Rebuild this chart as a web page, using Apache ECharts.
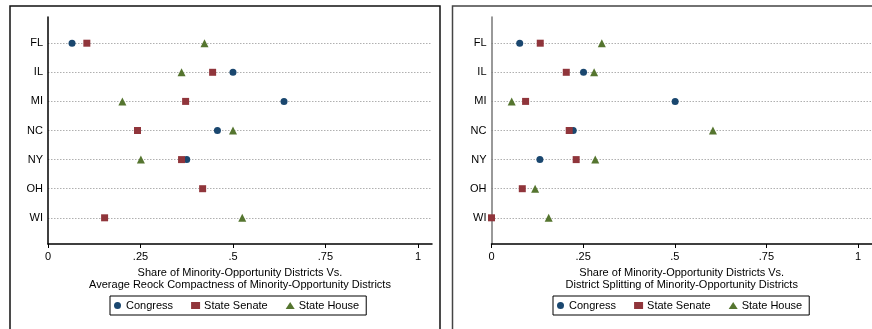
<!DOCTYPE html>
<html>
<head>
<meta charset="utf-8">
<script src="https://cdn.jsdelivr.net/npm/echarts@6/dist/echarts.min.js"></script>
<style>
html,body{margin:0;padding:0;background:#fff;}
#c{width:872px;height:329px;}
</style>
</head>
<body>
<div id="c"></div>
<script>
// ---- data ----
var states = ["FL", "IL", "MI", "NC", "NY", "OH", "WI"];
var seriesNames = ["Congress", "State Senate", "State House"];
var xTickValues = [0, 0.25, 0.5, 0.75, 1];
var xTickLabels = ["0", ".25", ".5", ".75", "1"];
var leftTitle = "Share of Minority-Opportunity Districts Vs.\nAverage Reock Compactness of Minority-Opportunity Districts";
var rightTitle = "Share of Minority-Opportunity Districts Vs.\nDistrict Splitting of Minority-Opportunity Districts";

// Left panel: Reock compactness (null = no point)
var reockCongress = [0.065, 0.500, 0.638, 0.458, 0.375, null, null];
var reockSenate   = [0.105, 0.445, 0.372, 0.242, 0.361, 0.418, 0.153];
var reockHouse    = [0.423, 0.361, 0.201, 0.500, 0.251, null, 0.525];

// Right panel: district splitting
var splitCongress = [0.077, 0.251, 0.501, 0.223, 0.132, null, null];
var splitSenate   = [0.133, 0.204, 0.093, 0.212, 0.231, 0.084, 0.000];
var splitHouse    = [0.301, 0.280, 0.055, 0.604, 0.283, 0.119, 0.156];

// ---- styles ----
var colors = ["#1a476f", "#90353b", "#55752f"];
var symbols = ["circle", "rect", "triangle"];
var symbolSizes = [7, 7, 8];
var FONT = "'Liberation Sans', Arial, Helvetica, sans-serif";

function pts(vals) {
  var out = [];
  for (var i = 0; i < vals.length; i++) {
    if (vals[i] !== null) out.push([vals[i], i]);
  }
  return out;
}

function mkX(idx, title) {
  return {
    type: 'value', gridIndex: idx, min: 0, max: 1.038,
    axisLine: {show: true, onZero: false, lineStyle: {color: '#000', width: 1.5}},
    axisTick: {show: true, length: 4, lineStyle: {color: '#000'}, customValues: xTickValues},
    axisLabel: {
      color: '#000', fontSize: 11, fontFamily: FONT, margin: 7,
      customValues: xTickValues,
      formatter: function (v) {
        for (var i = 0; i < xTickValues.length; i++) if (Math.abs(xTickValues[i] - v) < 1e-9) return xTickLabels[i];
        return '';
      }
    },
    splitLine: {show: false},
    name: title, nameLocation: 'middle', nameGap: 20,
    nameTextStyle: {color: '#000', fontSize: 11, fontFamily: FONT, lineHeight: 12, align: 'center'}
  };
}

function mkY(idx, lineColor) {
  var cats = [0, 1, 2, 3, 4, 5, 6];
  return {
    type: 'value', gridIndex: idx, min: -0.9, max: 6.9, inverse: true,
    axisLine: {show: true, onZero: false, lineStyle: {color: lineColor, width: 1.5}},
    axisTick: {show: false, customValues: cats},
    axisLabel: {
      color: '#000', fontSize: 11, fontFamily: FONT, margin: 5,
      customValues: cats,
      formatter: function (v) { return states[Math.round(v)] || ''; }
    },
    splitLine: {show: true, lineStyle: {color: '#b0b0b0', width: 1, type: [1.5, 1.5]}}
  };
}

function mkSeries(name, k, xi, vals) {
  return {
    name: name, type: 'scatter', xAxisIndex: xi, yAxisIndex: xi,
    symbol: symbols[k], symbolSize: symbolSizes[k],
    itemStyle: {color: colors[k], opacity: 1},
    data: pts(vals), z: 3 + k
  };
}

function mkLegend(left) {
  return {
    left: left, top: 296, orient: 'horizontal',
    borderColor: '#000', borderWidth: 1, padding: [4, 7, 4, 4],
    itemWidth: 9, itemHeight: 7, itemGap: 18,
    textStyle: {color: '#000', fontSize: 11, fontFamily: FONT, padding: [0, 0, 0, -1]},
    data: [
      {name: seriesNames[0], icon: 'circle'},
      {name: seriesNames[1], icon: 'rect'},
      {name: seriesNames[2], icon: 'triangle'}
    ],
    selectedMode: false
  };
}

var chart = echarts.init(document.getElementById('c'), null, {renderer: 'canvas'});
chart.setOption({
  animation: false,
  backgroundColor: '#fff',
  textStyle: {fontFamily: FONT},
  graphic: [
    {type: 'rect', shape: {x: 10, y: 6, width: 430, height: 400}, style: {fill: 'none', stroke: '#111', lineWidth: 1.5}, silent: true},
    {type: 'rect', shape: {x: 452.5, y: 6, width: 430, height: 400}, style: {fill: 'none', stroke: '#444', lineWidth: 1.5}, silent: true}
  ],
  grid: [
    {left: 48, top: 17, width: 384, height: 227},
    {left: 491.5, top: 17, width: 384, height: 227}
  ],
  xAxis: [mkX(0, leftTitle), mkX(1, rightTitle)],
  yAxis: [mkY(0, '#000'), mkY(1, '#777')],
  legend: [mkLegend(110), mkLegend(553)],
  series: [
    mkSeries(seriesNames[0], 0, 0, reockCongress),
    mkSeries(seriesNames[1], 1, 0, reockSenate),
    mkSeries(seriesNames[2], 2, 0, reockHouse),
    mkSeries(seriesNames[0], 0, 1, splitCongress),
    mkSeries(seriesNames[1], 1, 1, splitSenate),
    mkSeries(seriesNames[2], 2, 1, splitHouse)
  ]
});
</script>
</body>
</html>
